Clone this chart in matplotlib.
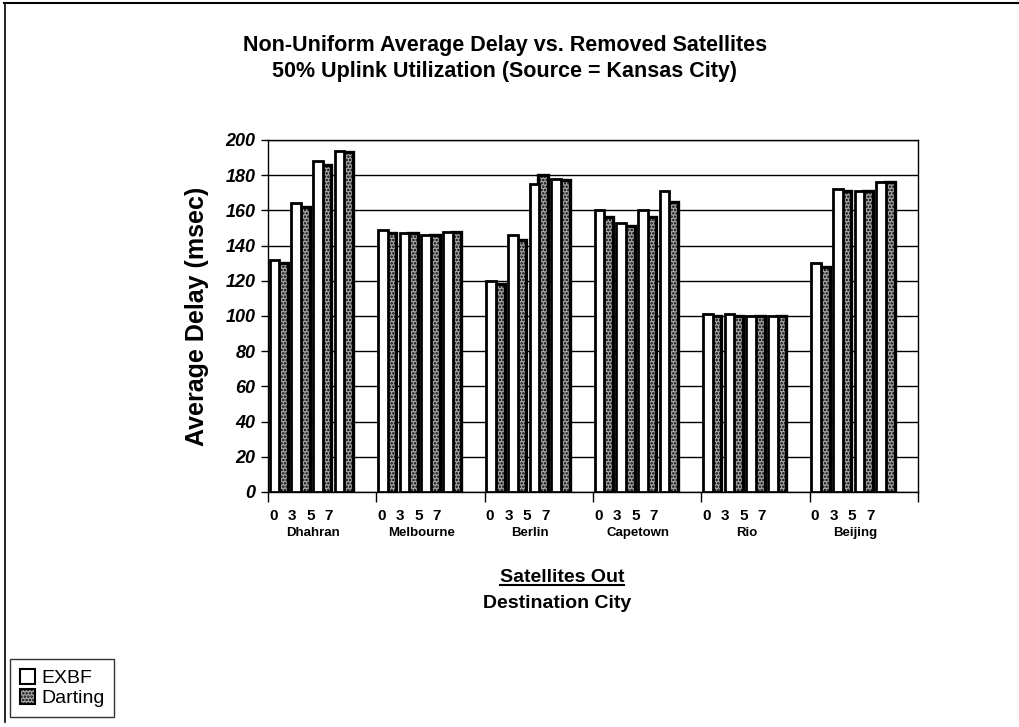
import matplotlib.pyplot as plt
from matplotlib.patches import Patch
from matplotlib.lines import Line2D
import numpy as np

# values (msec)
cities = ["Dhahran", "Melbourne", "Berlin", "Capetown", "Rio", "Beijing"]
sats_out = ["0", "3", "5", "7"]
exbf = [
    [132, 164, 188, 194],
    [149, 147, 146, 148],
    [120, 146, 175, 178],
    [160, 153, 160, 171],
    [101, 101, 100, 100],
    [130, 172, 171, 176],
]
darting = [
    [130, 162, 186, 193],
    [147, 147, 146, 148],
    [118, 143, 180, 177],
    [156, 151, 156, 165],
    [100, 100, 100, 100],
    [128, 171, 171, 176],
]
yticks = list(range(0, 201, 20))

plt.rcParams['font.family'] = ['Liberation Sans', 'DejaVu Sans']
plt.rcParams['hatch.linewidth'] = 1.2

W, H = 1020, 727
fig = plt.figure(figsize=(W / 100, H / 100), dpi=100)
ax = fig.add_axes([268 / W, 1 - 492 / H, (918 - 268) / W, (492 - 140) / H])

slots = len(sats_out) + 1  # one empty slot after each city
bw = 0.44
for g, city in enumerate(cities):
    x = g * slots + np.arange(len(sats_out))
    ax.bar(x - 0.2, exbf[g], width=bw, facecolor="white", edgecolor="black",
           linewidth=2.0, zorder=3)
    ax.bar(x + 0.2, darting[g], width=bw, facecolor="#a8a8a8", edgecolor="black",
           hatch=".....", linewidth=2.4, zorder=2)

ax.set_xlim(-0.5, len(cities) * slots - 0.5)
ax.set_ylim(0, 200)
ax.set_yticks(yticks)
ax.set_yticklabels([str(v) for v in yticks], fontsize=13, fontweight="bold",
                   fontstyle="italic")
ax.yaxis.grid(True, color="black", linewidth=1.0)
ax.set_axisbelow(True)

bounds = [g * slots - 0.5 for g in range(len(cities) + 1)]
ax.set_xticks(bounds)
ax.set_xticklabels([])
ax.tick_params(axis="x", direction="out", length=7, width=1)
ax.tick_params(axis="y", direction="out", length=5, width=1, pad=4)
for s in ax.spines.values():
    s.set_linewidth(1.0)

trans = ax.get_xaxis_transform()
for g, city in enumerate(cities):
    for k, lab in enumerate(sats_out):
        ax.text(g * slots + k * 0.85 - 0.25, -0.068, lab, transform=trans,
                ha="center", va="center", fontsize=11, fontweight="bold")
    ax.text(g * slots + 1.6, -0.116, city, transform=trans, ha="center",
            va="center", fontsize=9.5, fontweight="bold")

ax.set_ylabel("Average Delay (msec)", fontsize=18, fontweight="bold", labelpad=12)

fig.text(505 / W, 1 - 45 / H, "Non-Uniform Average Delay vs. Removed Satellites",
         ha="center", va="center", fontsize=15.5, fontweight="bold")
fig.text(505 / W, 1 - 72 / H, "50% Uplink Utilization (Source = Kansas City)",
         ha="center", va="center", fontsize=15.5, fontweight="bold")

t1 = fig.text(562 / W, 1 - 578 / H, "Satellites Out", ha="center", va="center",
              fontsize=14, fontweight="bold")
fig.text(557 / W, 1 - 603 / H, "Destination City", ha="center", va="center",
         fontsize=14, fontweight="bold")

# underline the "Satellites Out" label
fig.canvas.draw()
bb = t1.get_window_extent().transformed(fig.transFigure.inverted())
fig.add_artist(Line2D([bb.x0, bb.x1], [bb.y0 + 0.002, bb.y0 + 0.002],
                      color="black", linewidth=1.5, transform=fig.transFigure))

# outer frame (top and left edges)
fig.add_artist(Line2D([4 / W, 1], [1 - 3 / H, 1 - 3 / H], color="black",
                      linewidth=1.5, transform=fig.transFigure))
fig.add_artist(Line2D([5 / W, 5 / W], [1 - 3 / H, 1 - 722 / H], color="black",
                      linewidth=1.2, transform=fig.transFigure))

handles = [Patch(facecolor="white", edgecolor="black", linewidth=1.5, label="EXBF"),
           Patch(facecolor="#a8a8a8", edgecolor="black", hatch=".....",
                 linewidth=1.5, label="Darting")]
leg = fig.legend(handles=handles, loc="lower left",
                 bbox_to_anchor=(10 / W, 1 - 717 / H), fontsize=14,
                 frameon=True, fancybox=False, edgecolor="black",
                 handlelength=0.8, handleheight=0.8, handletextpad=0.3,
                 borderpad=0.5, labelspacing=0.1, borderaxespad=0)
leg.get_frame().set_linewidth(1.0)

fig.savefig("out.png", dpi=100)
